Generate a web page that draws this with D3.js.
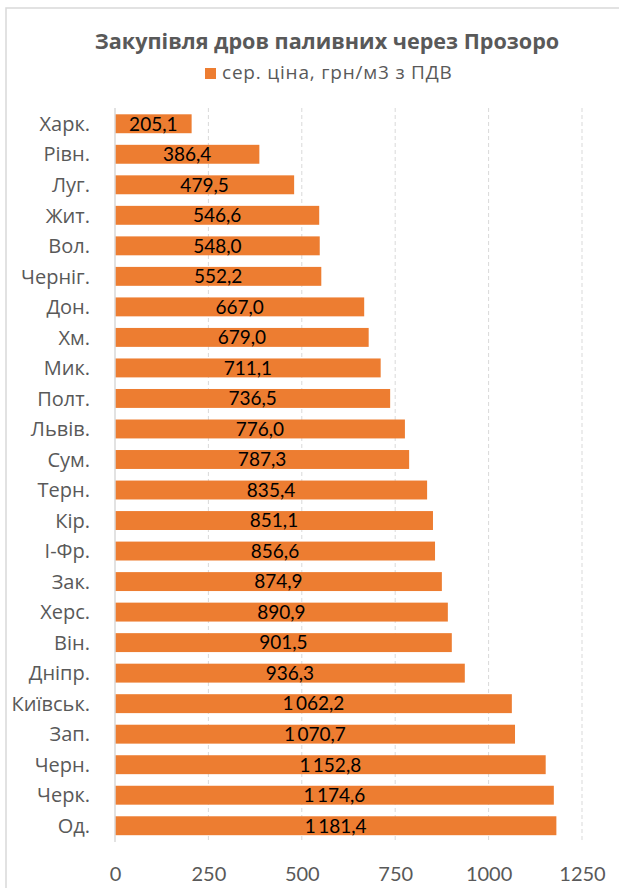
<!DOCTYPE html>
<html>
<head>
<meta charset="utf-8">
<script src="https://cdn.jsdelivr.net/npm/d3@7"></script>
<style>
  html, body { margin: 0; padding: 0; background: #fff; }
  svg { display: block; font-family: Lato, "Open Sans", sans-serif; }
</style>
</head>
<body>
<svg id="chart" width="619" height="888"></svg>
<script>
// Average firewood price by region (UAH per m3, VAT included)
const regions = ["Харк.", "Рівн.", "Луг.", "Жит.", "Вол.", "Черніг.", "Дон.", "Хм.", "Мик.", "Полт.",
  "Львів.", "Сум.", "Терн.", "Кір.", "І-Фр.", "Зак.", "Херс.", "Він.", "Дніпр.", "Київськ.",
  "Зап.", "Черн.", "Черк.", "Од."];
const prices = [205.1, 386.4, 479.5, 546.6, 548.0, 552.2, 667.0, 679.0, 711.1, 736.5,
  776.0, 787.3, 835.4, 851.1, 856.6, 874.9, 890.9, 901.5, 936.3, 1062.2,
  1070.7, 1152.8, 1174.6, 1181.4];
const xTicks = [0, 250, 500, 750, 1000, 1250];
const titleText = "Закупівля дров паливних через Прозоро";
const seriesName = "сер. ціна, грн/м3 з ПДВ";

const data = regions.map((r, i) => ({ region: r, price: prices[i] }));

const uk = d3.formatLocale({ decimal: ",", thousands: "\u2009", grouping: [3], currency: ["", ""] });
const fmt = uk.format(",.1f");

const svg = d3.select("#chart");
const orange = "#ED7D31";
const gray = "#595959";
const sideFont = "'Open Sans', Lato, sans-serif";

// chart area frame
svg.append("rect")
  .attr("x", 6).attr("y", 8)
  .attr("width", 640).attr("height", 900)
  .attr("fill", "#fff")
  .attr("stroke", "#d9d9d9").attr("stroke-width", 1.5);

const x = d3.scaleLinear().domain([0, 1250]).range([115, 582]);
const y = d3.scaleBand().domain(regions).range([108.5, 841]).paddingInner(0.38).paddingOuter(0.19);

// dashed vertical gridlines
svg.append("g").selectAll("line")
  .data(xTicks.filter(t => t > 0))
  .join("line")
  .attr("x1", d => x(d)).attr("x2", d => x(d))
  .attr("y1", 108).attr("y2", 841)
  .attr("stroke", "#d9d9d9").attr("stroke-width", 1)
  .attr("stroke-dasharray", "4,3");

// bars
svg.append("g").selectAll("rect")
  .data(data)
  .join("rect")
  .attr("x", x(0))
  .attr("y", d => y(d.region))
  .attr("width", d => x(d.price) - x(0))
  .attr("height", y.bandwidth())
  .attr("fill", orange);

// vertical category axis line
svg.append("line")
  .attr("x1", x(0)).attr("x2", x(0))
  .attr("y1", 108).attr("y2", 842)
  .attr("stroke", "#d9d9d9").attr("stroke-width", 1.5);

// value labels inside bars
svg.append("g").selectAll("text")
  .data(data)
  .join("text")
  .attr("x", d => (x(0) + x(d.price)) / 2)
  .attr("y", d => y(d.region) + y.bandwidth() / 2)
  .attr("dy", "0.36em")
  .attr("text-anchor", "middle")
  .attr("font-size", 19)
  .attr("fill", "#000")
  .text(d => fmt(d.price));

// category labels
const yAxis = d3.axisLeft(y).tickSize(0).tickPadding(25);
const gy = svg.append("g").attr("transform", `translate(${x(0)},0)`).call(yAxis);
gy.select(".domain").remove();
gy.selectAll("text").attr("font-size", 20).attr("fill", gray).attr("font-family", sideFont).attr("dy", "0.36em");

// value axis labels
const xAxis = d3.axisBottom(x).tickValues(xTicks).tickFormat(d3.format("d")).tickSize(0).tickPadding(0);
const gx = svg.append("g").attr("transform", "translate(0,867)").call(xAxis);
gx.select(".domain").remove();
gx.selectAll("text").attr("font-size", 20).attr("fill", gray).attr("font-family", "Lato, sans-serif").attr("dy", "0.71em");

// title
svg.append("text")
  .attr("x", 327).attr("y", 49)
  .attr("text-anchor", "middle")
  .attr("font-family", sideFont)
  .attr("font-size", 21.6).attr("font-weight", "bold")
  .attr("fill", gray)
  .text(titleText);

// legend
const lg = svg.append("g");
lg.append("rect").attr("x", 205).attr("y", 68).attr("width", 11).attr("height", 11).attr("fill", orange);
lg.append("text").attr("x", 222).attr("y", 79)
  .attr("font-family", sideFont)
  .attr("font-size", 19).attr("letter-spacing", 0.8).attr("fill", gray)
  .text(seriesName);
</script>
</body>
</html>
